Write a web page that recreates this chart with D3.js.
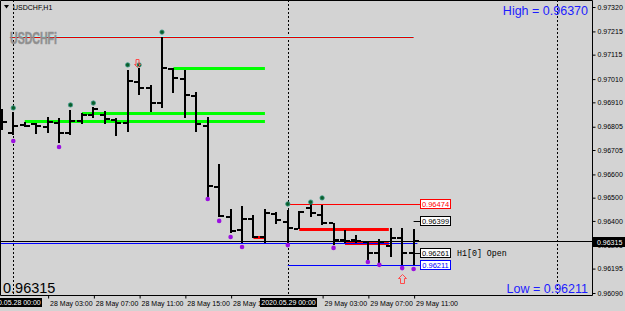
<!DOCTYPE html>
<html>
<head>
<meta charset="utf-8">
<script src="https://cdn.jsdelivr.net/npm/d3@7"></script>
<style>
  body { margin: 0; background: #d3d3d3; }
  svg { display: block; }
</style>
</head>
<body>
<script>
// USDCHF H1 bars
const barTimes = [
  "2020.05.27 23:00",
  "2020.05.28 00:00", "2020.05.28 01:00", "2020.05.28 02:00", "2020.05.28 03:00",
  "2020.05.28 04:00", "2020.05.28 05:00", "2020.05.28 06:00", "2020.05.28 07:00",
  "2020.05.28 08:00", "2020.05.28 09:00", "2020.05.28 10:00", "2020.05.28 11:00",
  "2020.05.28 12:00", "2020.05.28 13:00", "2020.05.28 14:00", "2020.05.28 15:00",
  "2020.05.28 16:00", "2020.05.28 17:00", "2020.05.28 18:00", "2020.05.28 19:00",
  "2020.05.28 20:00", "2020.05.28 21:00", "2020.05.28 22:00", "2020.05.28 23:00",
  "2020.05.29 00:00", "2020.05.29 01:00", "2020.05.29 02:00", "2020.05.29 03:00",
  "2020.05.29 04:00", "2020.05.29 05:00", "2020.05.29 06:00", "2020.05.29 07:00",
  "2020.05.29 08:00", "2020.05.29 09:00", "2020.05.29 10:00", "2020.05.29 11:00"
];
const opens = [0.96808,
  0.96778, 0.96813, 0.96817, 0.96804, 0.96821, 0.96778, 0.96830, 0.96856,
  0.96856, 0.96834, 0.96821, 0.96997, 0.96972, 0.96907, 0.97053, 0.97010,
  0.96937, 0.96808, 0.96546, 0.96417, 0.96361, 0.96408, 0.96331, 0.96430,
  0.96395, 0.96365, 0.96456, 0.96425, 0.96391, 0.96318, 0.96318, 0.96309,
  0.96262, 0.96292, 0.96327, 0.96262];
const highs = [0.96881,
  0.96868, 0.96825, 0.96821, 0.96847, 0.96843, 0.96877, 0.96864, 0.96890,
  0.96873, 0.96843, 0.97049, 0.97058, 0.96985, 0.97191, 0.97058, 0.97049,
  0.96954, 0.96847, 0.96645, 0.96451, 0.96464, 0.96425, 0.96451, 0.96438,
  0.96447, 0.96443, 0.96474, 0.96470, 0.96391, 0.96361, 0.96339, 0.96314,
  0.96322, 0.96370, 0.96370, 0.96365];
const lows = [0.96791,
  0.96770, 0.96804, 0.96774, 0.96778, 0.96735, 0.96770, 0.96817, 0.96843,
  0.96817, 0.96765, 0.96782, 0.96942, 0.96868, 0.96886, 0.96950, 0.96843,
  0.96782, 0.96503, 0.96417, 0.96348, 0.96303, 0.96327, 0.96305, 0.96387,
  0.96305, 0.96365, 0.96417, 0.96382, 0.96296, 0.96305, 0.96305, 0.96232,
  0.96215, 0.96245, 0.96211, 0.96211];
const closes = [0.96825,
  0.96808, 0.96808, 0.96808, 0.96825, 0.96778, 0.96830, 0.96856, 0.96881,
  0.96838, 0.96821, 0.97002, 0.96972, 0.96907, 0.97058, 0.97015, 0.96942,
  0.96817, 0.96550, 0.96421, 0.96357, 0.96408, 0.96331, 0.96434, 0.96404,
  0.96370, 0.96438, 0.96434, 0.96391, 0.96318, 0.96314, 0.96314, 0.96262,
  0.96309, 0.96327, 0.96262, 0.96315];

// dots above / below bars
const upMarks = [
  ["2020.05.28 00:00", 0.96886], ["2020.05.28 05:00", 0.96899], ["2020.05.28 07:00", 0.96907],
  ["2020.05.28 10:00", 0.97071], ["2020.05.28 11:00", 0.97071], ["2020.05.28 13:00", 0.97212],
  ["2020.05.29 00:00", 0.96473], ["2020.05.29 02:00", 0.96481], ["2020.05.29 03:00", 0.96499]
];
const downMarks = [
  ["2020.05.28 00:00", 0.96744], ["2020.05.28 04:00", 0.96718], ["2020.05.28 17:00", 0.96494],
  ["2020.05.28 18:00", 0.96400], ["2020.05.28 19:00", 0.96331], ["2020.05.28 20:00", 0.96288],
  ["2020.05.29 00:00", 0.96296], ["2020.05.29 04:00", 0.96284], ["2020.05.29 07:00", 0.96223],
  ["2020.05.29 08:00", 0.96211], ["2020.05.29 10:00", 0.96197], ["2020.05.29 11:00", 0.96193]
];
const arrows = [
  ["2020.05.28 10:50", 0.97079, "down"],
  ["2020.05.29 10:00", 0.96150, "up"]
];

// horizontal levels: kind, price, from, to
const levels = [
  ["prevHigh", 0.97191, "2020.05.27 23:42", "2020.05.29 11:00"],
  ["zone", 0.97058, "2020.05.28 14:00", "2020.05.28 22:00"],
  ["zone", 0.96865, "2020.05.28 06:00", "2020.05.28 22:00"],
  ["zone", 0.96830, "2020.05.28 01:00", "2020.05.28 22:00"],
  ["redZone", 0.96331, "2020.05.28 21:00", "2020.05.28 21:55"],
  ["redZone", 0.96365, "2020.05.29 01:00", "2020.05.29 08:50"],
  ["redZone", 0.96305, "2020.05.29 05:00", "2020.05.29 08:50"],
  ["prevLow", 0.96303, "2020.05.27 21:00", "2020.05.29 11:20"],
  ["dayHigh", 0.96474, "2020.05.29 00:00", "2020.05.29 11:35"],
  ["dayLow", 0.96211, "2020.05.29 00:00", "2020.05.29 11:35"],
  ["open", 0.96399, "2020.05.29 11:00", "2020.05.29 11:35"],
  ["open", 0.96261, "2020.05.29 11:00", "2020.05.29 11:35"]
];
const priceLabels = [
  ["dayHigh", 0.96474], ["open", 0.96399], ["open", 0.96261], ["dayLow", 0.96211]
];

const bid = 0.96315;
const yTicks = [0.97320, 0.97215, 0.97115, 0.97010, 0.96910, 0.96805, 0.96705,
                0.96600, 0.96500, 0.96400, 0.96295, 0.96195, 0.96090];
const timeTicks = ["2020.05.28 03:00", "2020.05.28 07:00", "2020.05.28 11:00", "2020.05.28 15:00",
                   "2020.05.28 19:00", "2020.05.29 03:00", "2020.05.29 07:00", "2020.05.29 11:00"];
const daySeps = ["2020.05.28 00:00", "2020.05.29 00:00"];
const vLine = "2020.05.29 23:30";

const parse = d3.timeParse("%Y.%m.%d %H:%M");

let width = 625, height = 311;
let plotR = 592, plotB = 295;
const font = "'Liberation Sans', Arial, sans-serif";

let svg = d3.select('body')
            .append('svg')
            .attr('width', width)
            .attr('height', height)
            .style('background', '#d3d3d3');

const x = d3.scaleTime()
            .domain([parse("2020.05.28 00:00"), parse("2020.05.29 00:00")])
            .range([13.3, 287.8]);

const y = d3.scaleLinear()
            .domain([0.96090, 0.97320])
            .range([293, 7]);

svg.append('clipPath').attr('id', 'clip')
   .append('rect').attr('x', 0).attr('y', 0).attr('width', plotR).attr('height', plotB);

const plot = svg.append('g').attr('clip-path', 'url(#clip)');

// dotted day separators and the vertical line
plot.selectAll('line.sep')
    .data(daySeps.concat([vLine]))
    .join('line')
    .attr('x1', d => Math.round(x(parse(d))) + 0.5)
    .attr('x2', d => Math.round(x(parse(d))) + 0.5)
    .attr('y1', 0)
    .attr('y2', plotB)
    .attr('stroke', '#000')
    .attr('stroke-dasharray', '2,2');

// levels
const levelStyle = {
  prevHigh: { color: '#dd0000', w: 1 },
  zone: { color: '#00ff00', w: 3 },
  redZone: { color: '#ff0000', w: 3 },
  prevLow: { color: '#0000ff', w: 1 },
  dayHigh: { color: '#ff0000', w: 1 },
  dayLow: { color: '#0000ff', w: 1 },
  open: { color: '#000000', w: 1 }
};

// light cyan shadow line under yesterday's high
plot.append('line')
    .attr('x1', x(parse(levels[0][2])))
    .attr('x2', x(parse(levels[0][3])))
    .attr('y1', Math.round(y(levels[0][1])) - 0.5)
    .attr('y2', Math.round(y(levels[0][1])) - 0.5)
    .attr('stroke', '#a8f4f4');

plot.selectAll('line.level')
    .data(levels)
    .join('line')
    .attr('x1', d => x(parse(d[2])))
    .attr('x2', d => x(parse(d[3])))
    .attr('y1', d => Math.round(y(d[1])) + (levelStyle[d[0]].w % 2 ? 0.5 : 0))
    .attr('y2', d => Math.round(y(d[1])) + (levelStyle[d[0]].w % 2 ? 0.5 : 0))
    .attr('stroke', d => levelStyle[d[0]].color)
    .attr('stroke-width', d => levelStyle[d[0]].w);

// bid line
plot.append('line')
    .attr('x1', 0).attr('x2', plotR)
    .attr('y1', Math.round(y(bid)) + 0.5)
    .attr('y2', Math.round(y(bid)) + 0.5)
    .attr('stroke', '#000');

// OHLC bars
const bars = barTimes.map((t, i) => ({ t: parse(t), o: opens[i], h: highs[i], l: lows[i], c: closes[i] }));
const bx = d => Math.round(x(d.t));

plot.selectAll('line.hl')
    .data(bars)
    .join('line')
    .attr('x1', bx).attr('x2', bx)
    .attr('y1', d => Math.round(y(d.h)))
    .attr('y2', d => Math.round(y(d.l)))
    .attr('stroke', '#000')
    .attr('stroke-width', 2);

plot.selectAll('line.open')
    .data(bars)
    .join('line')
    .attr('x1', d => bx(d) - 5).attr('x2', d => bx(d) - 1)
    .attr('y1', d => Math.round(y(d.o)))
    .attr('y2', d => Math.round(y(d.o)))
    .attr('stroke', '#000')
    .attr('stroke-width', 2);

plot.selectAll('line.close')
    .data(bars)
    .join('line')
    .attr('x1', d => bx(d) + 1).attr('x2', d => bx(d) + 5)
    .attr('y1', d => Math.round(y(d.c)))
    .attr('y2', d => Math.round(y(d.c)))
    .attr('stroke', '#000')
    .attr('stroke-width', 2);

// dots
plot.selectAll('circle.up')
    .data(upMarks)
    .join('circle')
    .attr('cx', d => x(parse(d[0])))
    .attr('cy', d => y(d[1]))
    .attr('r', 2.2)
    .attr('fill', '#0b5e2a')
    .attr('stroke', '#3c9a8a')
    .attr('stroke-width', 0.8);

plot.selectAll('circle.down')
    .data(downMarks)
    .join('circle')
    .attr('cx', d => x(parse(d[0])))
    .attr('cy', d => y(d[1]))
    .attr('r', 2.3)
    .attr('fill', '#9a10e0');

// hollow arrows
plot.selectAll('path.arrow')
    .data(arrows)
    .join('path')
    .attr('transform', d => `translate(${Math.round(x(parse(d[0]))) + 0.5},${Math.round(y(d[1])) + 0.5})`)
    .attr('d', d => d[2] === 'up'
      ? 'M0,-5 L4,-1 L2,-1 L2,4 L-2,4 L-2,-1 L-4,-1 Z'
      : 'M0,4 L3,1 L1.5,1 L1.5,-4 L-1.5,-4 L-1.5,1 L-3,1 Z')
    .attr('fill', 'none')
    .attr('stroke', '#ff4a4a')
    .attr('stroke-width', 1);

// price labels at right of last bar
const labelX = 420;
const lbl = plot.selectAll('g.plabel')
    .data(priceLabels)
    .join('g')
    .attr('transform', d => `translate(${labelX},${Math.round(y(d[1]))})`);

lbl.append('rect')
   .attr('x', 0.5).attr('y', -4.5)
   .attr('width', 30).attr('height', 9)
   .attr('fill', '#ffffff')
   .attr('stroke', d => levelStyle[d[0]].color);

lbl.append('text')
   .attr('x', 15.5).attr('y', 3)
   .attr('text-anchor', 'middle')
   .attr('font-family', font)
   .attr('font-size', '7.5px')
   .attr('fill', d => levelStyle[d[0]].color)
   .text(d => d3.format('.5f')(d[1]));

plot.append('text')
    .attr('x', 457)
    .attr('y', Math.round(y(0.96261)) + 3)
    .attr('font-family', "'Liberation Mono', monospace")
    .attr('font-size', '8.3px')
    .attr('fill', '#000')
    .text('H1[0] Open');

// frame
svg.append('path')
   .attr('d', `M0.5,${plotB + 0.5} V0.5 H${plotR + 0.5} V${plotB + 0.5} H0.5`)
   .attr('fill', 'none')
   .attr('stroke', '#000');

// price axis
let yaxis = svg.append('g')
               .attr('transform', `translate(${plotR + 0.5},0)`)
               .call(d3.axisRight(y).tickValues(yTicks).tickSize(3).tickPadding(2).tickFormat(d3.format('.5f')));
yaxis.select('.domain').remove();
yaxis.selectAll('text').attr('font-family', font).attr('font-size', '7px').attr('fill', '#000');

// current price box
const bidY = Math.round(y(bid));
svg.append('rect')
   .attr('x', plotR + 1).attr('y', bidY - 4)
   .attr('width', width - plotR - 1).attr('height', 10)
   .attr('fill', '#000');
svg.append('text')
   .attr('x', plotR + 5).attr('y', bidY + 4)
   .attr('font-family', font).attr('font-size', '7px')
   .attr('fill', '#fff')
   .text(d3.format('.5f')(bid));

// time axis
let xaxis = svg.append('g')
               .attr('transform', `translate(0,${plotB + 0.5})`)
               .call(d3.axisBottom(x)
                       .tickValues(timeTicks.map(parse))
                       .tickSize(3)
                       .tickFormat(d3.timeFormat('%-d %b %H:%M')));
xaxis.select('.domain').remove();
xaxis.selectAll('line').attr('transform', 'translate(0.5,0)');
xaxis.selectAll('text')
     .attr('text-anchor', 'start')
     .attr('x', 2)
     .attr('font-family', font).attr('font-size', '7px').attr('fill', '#000');

// day-start boxes on the time axis
const dayBox = svg.selectAll('g.day')
    .data(daySeps)
    .join('g')
    .attr('transform', d => `translate(${Math.round(x(parse(d)))},0)`);
dayBox.append('rect')
      .attr('x', -28).attr('y', 298)
      .attr('width', 57).attr('height', 9)
      .attr('fill', '#000');
dayBox.append('text')
      .attr('x', 0.5).attr('y', 305)
      .attr('text-anchor', 'middle')
      .attr('font-family', font).attr('font-size', '7px')
      .attr('fill', '#fff')
      .text(d => d3.timeFormat('%Y.%m.%d %H:%M')(parse(d)));

// title, watermark and info texts
svg.append('path').attr('d', 'M4,5 L9,5 L6.5,8.5 Z').attr('fill', '#000');
svg.append('text')
   .attr('x', 13).attr('y', 10)
   .attr('font-family', font).attr('font-size', '7px')
   .text('USDCHF,H1');

svg.append('text')
   .attr('x', 10).attr('y', 44)
   .attr('font-family', font).attr('font-size', '16px').attr('font-weight', 'bold')
   .attr('textLength', 47).attr('lengthAdjust', 'spacingAndGlyphs')
   .attr('fill', '#8c8c8c')
   .attr('stroke', '#9a9a9a').attr('stroke-width', 0.6)
   .text('USDCHFi');

svg.append('text')
   .attr('x', 588).attr('y', 15)
   .attr('text-anchor', 'end')
   .attr('font-family', font).attr('font-size', '12.5px')
   .attr('fill', '#1c1cff')
   .text('High = 0.96370');

svg.append('text')
   .attr('x', 588).attr('y', 293)
   .attr('text-anchor', 'end')
   .attr('font-family', font).attr('font-size', '12.5px')
   .attr('fill', '#1c1cff')
   .text('Low = 0.96211');

svg.append('text')
   .attr('x', 3).attr('y', 293)
   .attr('font-family', font).attr('font-size', '14.5px')
   .attr('fill', '#000')
   .text(d3.format('.5f')(bid));
</script>
</body>
</html>
